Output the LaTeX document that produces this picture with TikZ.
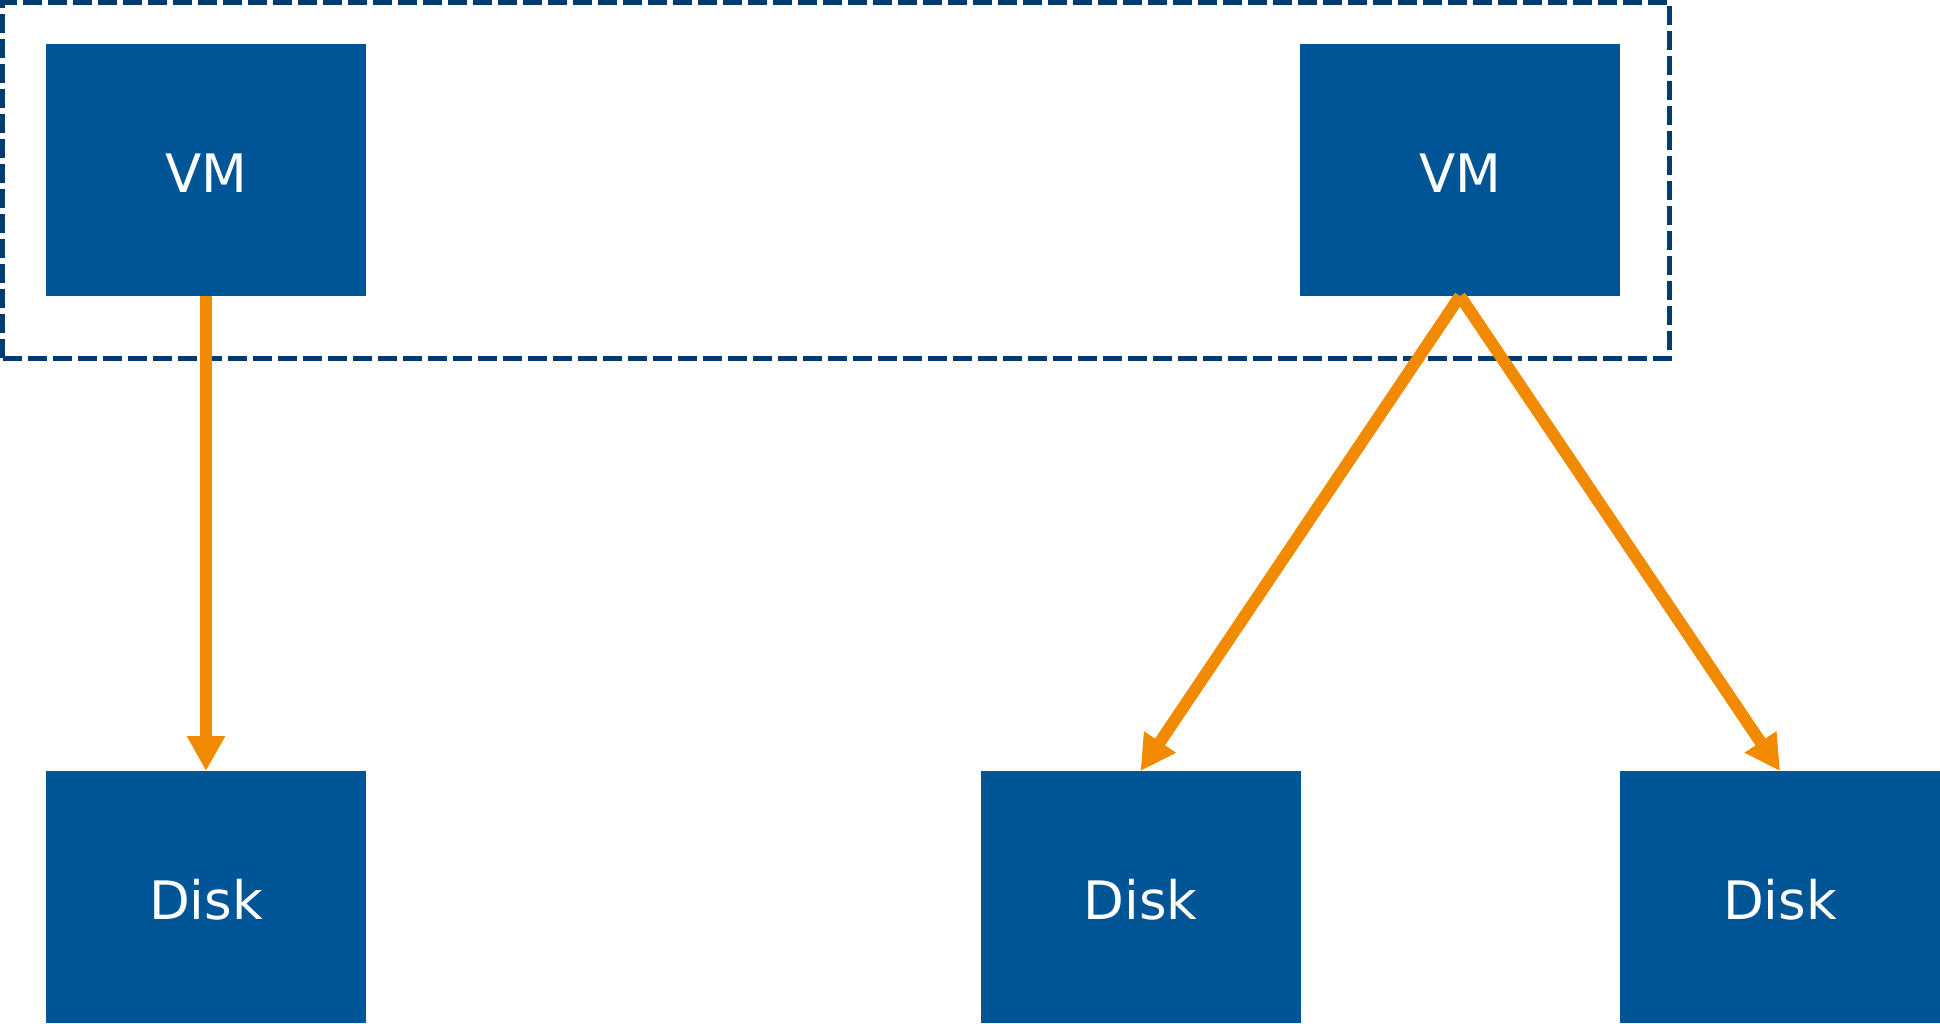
\documentclass[tikz,border=0pt]{standalone}
\usepackage{fontspec}
\setmainfont{DejaVu Sans}
\usetikzlibrary{arrows.meta}
\definecolor{boxblue}{HTML}{005596}
\definecolor{navy}{HTML}{003B70}
\definecolor{arroworange}{HTML}{F28A00}
\begin{document}
\begin{tikzpicture}[x=1pt,y=-1pt,
  box/.style={rectangle, fill=boxblue, text=white, minimum width=320pt, minimum height=252pt, inner sep=0pt, outer sep=0pt, text height=44pt, text depth=0pt, font=\fontsize{53}{64}\selectfont},
  link/.style={draw=arroworange, line width=12pt, -{Triangle[width=36pt,length=35pt]}},
  group/.style={draw=navy, line width=5pt, dash pattern=on 19pt off 6pt}]
\useasboundingbox (0,0) rectangle (1940,1023);
\node[group, rectangle, minimum width=1666.5pt, minimum height=356pt, inner sep=0pt, outer sep=0pt] (grp) at (835.75,180.5) {};
\node[box] (vm1) at (206,170) {VM};
\node[box] (vm2) at (1460,170) {VM};
\node[box] (d1) at (206,897) {Disk};
\node[box] (d2) at (1140.5,897) {Disk};
\node[box] (d3) at (1780,897) {Disk};
\draw[link] (vm1.south) -- (d1.north);
\draw[link] (vm2.south) -- (d2.north);
\draw[link] (vm2.south) -- (d3.north);
\end{tikzpicture}
\end{document}
